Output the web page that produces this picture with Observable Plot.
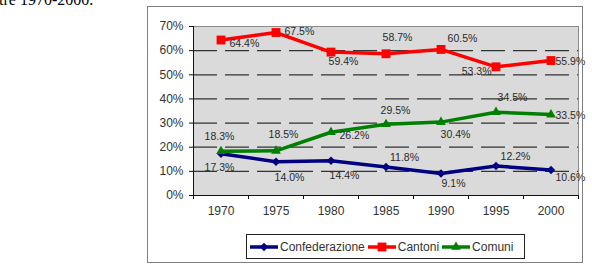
<!DOCTYPE html>
<html>
<head>
<meta charset="utf-8">
<script src="https://cdn.jsdelivr.net/npm/d3@7"></script>
<script src="https://cdn.jsdelivr.net/npm/@observablehq/plot@0.6"></script>
<style>
  html, body { margin: 0; padding: 0; background: #fff; }
  #wrap { position: relative; width: 592px; height: 271px; overflow: hidden; font-family: "Liberation Sans", Arial, sans-serif; }
  #head { position: absolute; left: -1px; top: -8px; font: 16px/16px "Liberation Serif", serif; color: #000; white-space: nowrap; }
  #box { position: absolute; left: 147px; top: 6px; width: 434px; height: 255px; border: 1px solid #7f7f7f; pointer-events: none; }
  #legend { position: absolute; left: 246px; top: 234px; width: 277px; height: 23px; border: 1px solid #222; background: #fff;
            display: flex; align-items: center; font-size: 12px; color: #333; }
  #legend .item { display: flex; align-items: center; margin-left: 2px; }
  #legend svg { display: block; margin-right: 1px; }
  #chart { position: absolute; left: 0; top: 0; }
</style>
</head>
<body>
<div id="wrap">
  <div id="head">tre 1970-2000.</div>
  <div id="chart"></div>
  <div id="box"></div>
  <div id="legend"></div>
</div>
<script>
const years = [1970, 1975, 1980, 1985, 1990, 1995, 2000];
const confederazione = [17.3, 14.0, 14.4, 11.8, 9.1, 12.2, 10.6];
const cantoni = [64.4, 67.5, 59.4, 58.7, 60.5, 53.3, 55.9];
const comuni = [18.3, 18.5, 26.2, 29.5, 30.4, 34.5, 33.5];
const seriesNames = ["Confederazione", "Cantoni", "Comuni"];
const yTicks = [0, 10, 20, 30, 40, 50, 60, 70];

// label placement (offsets from each point), kept apart from the data
const placeCantoni = [[8.5,3.5,"start"],[8.5,-1,"start"],[12.5,10,"middle"],[11.5,-16,"middle"],[21.5,-11,"middle"],[-4.5,5,"end"],[4.5,1,"start"]];
const placeComuni = [[-1.5,-15,"middle"],[7.5,-16,"middle"],[8.5,3,"start"],[9.5,-14,"middle"],[14.5,13,"middle"],[16.5,-15,"middle"],[4.5,1,"start"]];
const placeConf = [[-1.5,14,"middle"],[13.5,16,"middle"],[13.5,15,"middle"],[18.5,-9.5,"middle"],[12.5,10,"middle"],[19.5,-9.5,"middle"],[4.5,7.5,"start"]];

const colors = {Confederazione: "#000080", Cantoni: "#ff0000", Comuni: "#008000"};
const symbols = {Confederazione: "diamond2", Cantoni: "square", Comuni: "triangle"};
const radii = {Confederazione: 3.8, Cantoni: 5.0, Comuni: 3.6};

const table = [];
[confederazione, cantoni, comuni].forEach((vals, si) => {
  vals.forEach((v, i) => table.push({series: seriesNames[si], year: years[i], value: v, idx: i}));
});
const places = {Confederazione: placeConf, Cantoni: placeCantoni, Comuni: placeComuni};

const bounds = d3.range(years.length + 1).map(i => years[0] - 2.5 + i * 5);

const labelMarks = table.map(d => {
  const [dx, dy, anchor] = places[d.series][d.idx];
  return Plot.text([d], {x: "year", y: "value", text: t => t.value.toFixed(1) + "%",
    dx, dy, textAnchor: anchor, fontSize: 10.5, fill: "#2a2a2a"});
});

const marks = [
  Plot.frame({fill: "#dadada", stroke: "#8a8a8a"}),
  Plot.ruleY(yTicks.filter(t => t > 0 && t < 70), {stroke: "#333", strokeWidth: 1.2, strokeDasharray: "24,8"}),
  Plot.ruleX([bounds[0]], {stroke: "#111", strokeWidth: 1}),
  Plot.ruleY([0], {stroke: "#111", strokeWidth: 1}),
  Plot.axisY({ticks: yTicks, tickFormat: d => d + "%", tickSize: 4, tickPadding: 6, fontSize: 12, color: "#333", stroke: "#111", label: null}),
  Plot.axisX({ticks: bounds, tickFormat: () => "", tickSize: 4, stroke: "#111", label: null}),
  Plot.axisX({ticks: years, tickFormat: d => String(d), tickSize: 0, tickPadding: 11, fontSize: 12, color: "#333", label: null}),
  ...seriesNames.map(s => Plot.line(table.filter(d => d.series === s), {x: "year", y: "value", stroke: colors[s], strokeWidth: 3.5})),
  ...seriesNames.map(s => Plot.dot(table.filter(d => d.series === s), {x: "year", y: "value", symbol: symbols[s], r: radii[s], fill: colors[s], stroke: "none"})),
  ...labelMarks
];

const chart = Plot.plot({
  width: 592, height: 271,
  marginLeft: 193, marginRight: 14, marginTop: 26, marginBottom: 76,
  style: {background: "transparent", fontFamily: "Liberation Sans, Arial, sans-serif"},
  x: {type: "linear", domain: [bounds[0], bounds[bounds.length - 1]], axis: null, label: null},
  y: {domain: [0, 70], axis: null, label: null},
  symbol: {type: "identity"},
  marks
});
document.getElementById("chart").appendChild(chart);

// legend
const legend = document.getElementById("legend");
seriesNames.forEach(s => {
  const item = document.createElement("div");
  item.className = "item";
  const ns = "http://www.w3.org/2000/svg";
  const svg = document.createElementNS(ns, "svg");
  svg.setAttribute("width", 30); svg.setAttribute("height", 12);
  const line = document.createElementNS(ns, "line");
  line.setAttribute("x1", 1); line.setAttribute("x2", 29); line.setAttribute("y1", 6); line.setAttribute("y2", 6);
  line.setAttribute("stroke", colors[s]); line.setAttribute("stroke-width", 3.5);
  svg.appendChild(line);
  const sym = {diamond2: d3.symbolDiamond2, square: d3.symbolSquare, triangle: d3.symbolTriangle}[symbols[s]];
  const path = document.createElementNS(ns, "path");
  path.setAttribute("d", d3.symbol(sym, Math.PI * radii[s] * radii[s])());
  path.setAttribute("transform", "translate(15,6)");
  path.setAttribute("fill", colors[s]);
  svg.appendChild(path);
  item.appendChild(svg);
  const span = document.createElement("span");
  span.textContent = s;
  item.appendChild(span);
  legend.appendChild(item);
});
</script>
</body>
</html>
